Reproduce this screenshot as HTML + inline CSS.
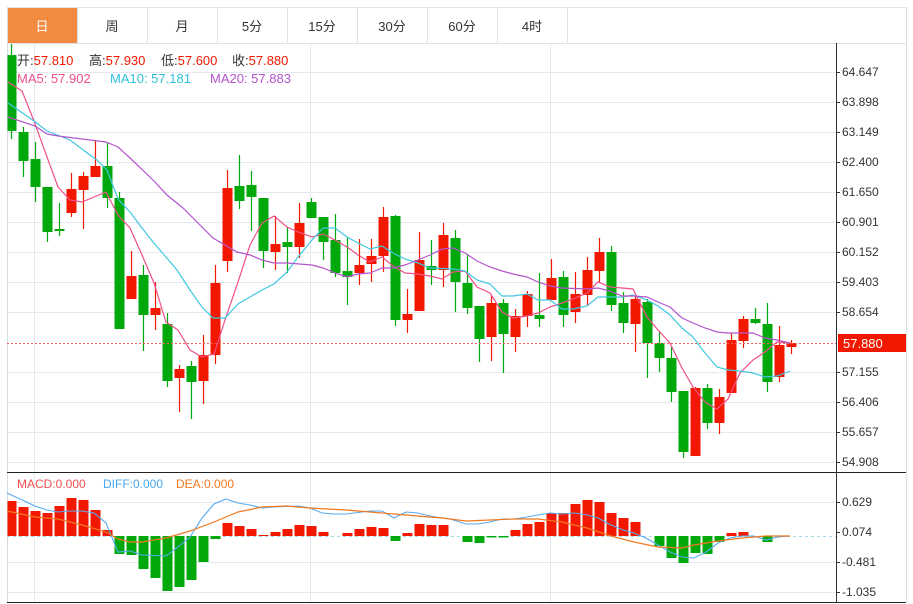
<!DOCTYPE html>
<html><head><meta charset="utf-8">
<style>
html,body{margin:0;padding:0;background:#fff;width:913px;height:604px;overflow:hidden;font-family:"Liberation Sans","Noto Sans CJK SC",sans-serif}
svg{position:absolute;left:0;top:0}
</style></head><body>
<svg id="s" width="913" height="604" xmlns="http://www.w3.org/2000/svg" font-family="Liberation Sans, Noto Sans CJK SC, sans-serif">
<rect x="0" y="0" width="913" height="604" fill="#fff"/>
<g id="grid" stroke="#e3e9ef" stroke-width="1"></g>
<g id="tabs"></g>
<g id="cnd"></g>
<g id="ma" fill="none" stroke-width="1.2"></g>
<g id="mac"></g>
<g id="axis"></g>
</svg>
<script>
var NS="http://www.w3.org/2000/svg";
function el(p,t,a,txt){var e=document.createElementNS(NS,t);for(var k in a)e.setAttribute(k,a[k]);if(txt!=null)e.textContent=txt;document.getElementById(p).appendChild(e);return e;}
[72,102,132,162,192,222,252,282,312,372,402,432,462,502,562,592].forEach(function(y){el('grid','line',{x1:7,x2:836,y1:y+.5,y2:y+.5});});
[34,310,550].forEach(function(x){el('grid','line',{x1:x+.5,x2:x+.5,y1:43,y2:602});});
var tn=["日","周","月","5分","15分","30分","60分","4时"];
el('tabs','line',{x1:7,x2:906,y1:7.5,y2:7.5,stroke:"#dde3e8"});
el('tabs','line',{x1:7,x2:906,y1:43.5,y2:43.5,stroke:"#dde3e8"});
for(var i=0;i<8;i++){var x=7+70*i;
 if(i==0)el('tabs','rect',{x:8,y:8,width:69,height:35,fill:"#f28b40"});
 el('tabs','line',{x1:x+70.5,x2:x+70.5,y1:8,y2:43,stroke:"#dde3e8"});
 el('tabs','text',{x:x+35,y:31,"text-anchor":"middle","font-size":"13",fill:i==0?"#fff":"#333"},tn[i]);}
el('tabs','line',{x1:7.5,x2:7.5,y1:7,y2:602,stroke:"#d8dde2"});
el('tabs','line',{x1:906.5,x2:906.5,y1:7,y2:602,stroke:"#d8dde2"});
var C=[[55,131,44,139,0],[132,161,127,177,0],[159,187,142,202,0],[187,232,187,242,0],[229,231,203,236,0],[189,213,173,217,1],[176,190,172,229,1],[166,177,141,177,1],[166,198,143,208,0],[198,329,192,329,0],
[276,299,251,299,1],[275,315,265,351,0],[308,315,282,330,1],[324,381,313,387,0],[369,378,365,412,1],[366,382,361,419,0],[355,381,335,404,1],[283,355,265,364,1],[188,261,170,272,1],[186,201,155,209,0],
[185,197,171,231,0],[198,251,198,268,0],[244,252,216,270,1],[242,247,227,273,0],[223,247,203,258,1],[202,218,198,218,0],[217,242,217,260,0],[240,273,214,277,0],[271,277,237,305,0],[265,273,239,285,1],
[256,264,239,282,1],[217,256,207,272,1],[216,320,215,326,0],[314,320,289,333,1],[260,311,232,311,1],[266,270,240,285,0],[235,270,223,287,1],[238,282,230,312,0],[283,308,255,314,0],[306,339,306,362,0],
[303,337,296,361,1],[303,334,299,373,0],[316,337,309,352,1],[294,316,291,327,1],[315,319,273,327,0],[278,300,259,300,1],[277,315,271,327,0],[294,312,272,323,1],[270,295,257,306,1],[252,271,238,282,1],
[252,305,246,311,0],[303,323,292,333,0],[299,324,296,352,1],[302,343,299,378,0],[343,358,331,372,0],[358,392,347,402,0],[391,452,391,458,0],[388,456,387,456,1],[388,423,384,429,0],[397,423,389,434,1],
[340,393,333,393,1],[319,341,316,348,1],[319,323,308,324,0],[324,382,303,392,0],[345,377,326,382,1],[343,347,340,354,1]];
C.forEach(function(c,i){var x=11+12*i,col=c[4]?"#f21800":"#00a80c";
 el('cnd','line',{x1:x+.5,x2:x+.5,y1:c[2],y2:c[3],stroke:col,"stroke-width":1.2});
 var bx=Math.max(7.5,x-4.5);el('cnd','rect',{x:bx,y:c[0],width:x+4.5-bx+1,height:Math.max(1.5,c[1]-c[0]),fill:col});});
el('cnd','line',{x1:7,x2:836,y1:343.5,y2:343.5,stroke:"#f06060","stroke-dasharray":"2,2"});
function pl(id,pts,col,w){el(id,'polyline',{points:pts,stroke:col,fill:"none","stroke-width":w||1.2});}
pl('ma',"8,82 22,91 34,121 47,157 58,187 70,200 82,202 94,197 106,192 118,215 130,228 142,255 154,283 166,322 178,330 190,350 202,357 214,354 225,320 238,282 250,245 262,223 274,216 287,227 298,232 312,237 323,234 335,240 347,247 358,255 370,262 382,257 393,266 405,273 418,274 430,276 442,279 453,272 465,271 477,287 490,293 502,312 513,318 527,316 538,313 550,307 562,303 573,299 587,293 598,282 610,287 622,288 633,289 647,317 658,330 670,343 682,368 693,387 705,402 717,409 728,399 740,373 753,360 765,352 777,342 790,343","#f0508a");
pl('ma',"8,103 34,121 47,131 70,140 94,158 97,160 107,170 118,199 130,212 142,228 153,242 177,270 190,290 202,307 213,318 225,318 238,304 250,297 262,290 274,284 287,272 298,257 312,240 323,228 335,228 347,237 358,243 370,249 382,246 393,253 405,259 418,263 430,268 453,269 465,271 477,280 490,284 502,296 513,296 527,294 538,300 550,300 562,309 573,309 587,306 598,297 610,297 622,297 633,295 647,300 658,306 670,315 682,328 693,337 705,353 717,367 728,370 740,371 753,373 765,377 777,376 790,371","#40c8e0");
pl('ma',"8,117 35,126 47,134 58,136 82,139 106,142 118,147 130,158 153,180 167,195 183,208 200,225 213,238 237,252 250,255 262,260 274,263 287,263 312,265 323,268 335,273 347,277 358,274 370,273 382,268 393,268 405,265 418,260 430,255 442,249 453,248 465,253 477,261 490,267 502,271 513,274 527,277 538,282 550,286 562,288 587,289 598,288 610,291 622,296 633,296 647,297 658,302 670,307 682,318 693,323 705,328 717,332 728,333 753,333 765,338 777,340 790,343","#b455cc");
[[17,"开:","57.810"],[89,"高:","57.930"],[161,"低:","57.600"],[232,"收:","57.880"]].forEach(function(a){
 var t=el('axis','text',{x:a[0],y:65,"font-size":"13",fill:"#333"},a[1]);
 var s=document.createElementNS(NS,'tspan');s.setAttribute('fill','#f21800');s.textContent=a[2];t.appendChild(s);});
el('axis','text',{x:17,y:83,"font-size":"13",fill:"#f0508a"},"MA5: 57.902");
el('axis','text',{x:110,y:83,"font-size":"13",fill:"#30c0dc"},"MA10: 57.181");
el('axis','text',{x:210,y:83,"font-size":"13",fill:"#b455cc"},"MA20: 57.883");
el('mac','line',{x1:7,x2:836,y1:536.5,y2:536.5,stroke:"#a8dcea","stroke-dasharray":"3,3"});
var M={0:501,1:507,2:511,3:513,4:506,5:498,6:500,7:510,8:530,9:554,10:555,11:569,12:578,13:591,14:587,15:580,16:562,17:539,18:523,19:526,20:529,21:535,22:532,23:529,24:525,25:526,26:532,28:533,29:529,30:527,31:528,32:541,33:533,34:524,35:525,36:525,38:542,39:543,40:537.5,41:537.5,42:530,43:524,44:522,45:513,46:513,47:504,48:500,49:502,50:513,51:518,52:522,54:546,55:558,56:563,57:553,58:554,59:542,60:533,61:532,63:542};
for(var k in M){var x=11+12*k,v=M[k],up=v<536;var bx=Math.max(7.5,x-4.5);
 el('mac','rect',{x:bx,y:up?v:536,width:x+4.5-bx+1,height:Math.max(1,Math.abs(v-536)),fill:up?"#f21800":"#00a80c"});}
pl('mac',"7,493 35,506 47,510 58,512 70,511 82,511 94,513 106,523 118,552 130,551 142,555 166,556 178,547 190,537 202,518 214,504 226,499 238,503 250,505 262,508 274,507 298,506 310,508 322,513 334,514 346,514 370,511 382,511 394,518 406,512 418,513 430,516 442,518 450,519 466,524 478,524 490,522 502,519 514,519 527,517 538,515 550,513 562,514 574,513 587,515 598,518 611,525 623,530 634,533 646,538 658,545 670,552 682,557 694,558 706,552 718,543 730,538 742,536 754,536 766,540 778,537 790,536","#5aabf0",1.1);
pl('mac',"7,511 35,517 58,519 82,525 106,532 118,539 130,542 142,542 166,538 190,531 214,522 238,512 262,507 286,506 310,508 346,510 394,514 442,518 466,521 490,520 514,519 538,519 562,522 587,528 611,536 634,542 658,547 682,548 694,545 718,541 742,538 766,536 790,536","#f07820",1.2);
el('axis','text',{x:17,y:488,"font-size":"12",fill:"#f05050"},"MACD:0.000");
el('axis','text',{x:103,y:488,"font-size":"12",fill:"#4aa8f0"},"DIFF:0.000");
el('axis','text',{x:176,y:488,"font-size":"12",fill:"#f07820"},"DEA:0.000");
el('axis','line',{x1:7,x2:906,y1:472.5,y2:472.5,stroke:"#222"});
el('axis','line',{x1:7,x2:906,y1:602.5,y2:602.5,stroke:"#222"});
el('axis','line',{x1:836.5,x2:836.5,y1:43,y2:602,stroke:"#333"});
var P=[[72,"64.647"],[102,"63.898"],[132,"63.149"],[162,"62.400"],[192,"61.650"],[222,"60.901"],[252,"60.152"],[282,"59.403"],[312,"58.654"],[372,"57.155"],[402,"56.406"],[432,"55.657"],[462,"54.908"],[502,"0.629"],[532,"0.074"],[562,"-0.481"],[592,"-1.035"]];
P.forEach(function(p){el('axis','line',{x1:836,x2:840,y1:p[0]+.5,y2:p[0]+.5,stroke:"#333"});
 el('axis','text',{x:842,y:p[0]+4,"font-size":"12",fill:"#333"},p[1]);});
el('axis','rect',{x:838,y:334,width:68,height:18,fill:"#f21800"});
el('axis','text',{x:843,y:348,"font-size":"13",fill:"#fff"},"57.880");
</script>
</body></html>
